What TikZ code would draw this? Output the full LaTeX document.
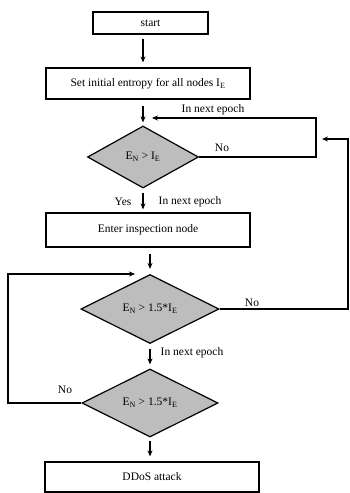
\documentclass[tikz,border=0pt]{standalone}
\usepackage{fontspec}
\setmainfont{Liberation Serif}
\usepackage{tikz}
\usetikzlibrary{arrows.meta}
\usetikzlibrary{shapes.geometric}
\newcommand{\entropy}[1]{#1\textsubscript{E}}
\newcommand{\current}{E\textsubscript{N}}
\tikzstyle{stepbox}=[draw, line width=1.2pt, inner sep=0, font=\fontsize{11.5}{13}\selectfont]
\tikzstyle{test}=[stepbox, diamond, fill=black!26, aspect=1.8]
\tikzstyle{flow}=[line width=1.2pt, -{Stealth[length=6pt,width=5pt]}]
\tikzstyle{loop}=[line width=1.2pt, -{Stealth[length=6pt,width=5pt]}, rounded corners=0]
\tikzstyle{note}=[inner sep=0, font=\fontsize{11.5}{13}\selectfont]
\tikzstyle{chart}=[x=1pt, y=-1pt,
                   % keep the page at the size of the reference
                   execute at begin picture={\useasboundingbox (0,0) rectangle (350,493);}]

\begin{document}
\begin{tikzpicture}[chart]
        \node[stepbox, minimum width=115pt, minimum height=22pt] (start) at (150.5, 23) {start};
        \node[stepbox, minimum width=204pt, minimum height=31pt] (init) at (148, 83.5) {Set initial entropy for all nodes \entropy{I}};
        \node[test, minimum width=111pt, minimum height=62pt] (check) at (143, 157) {\current{} > \entropy{I}};
        \node[stepbox, minimum width=204pt, minimum height=34pt] (inspect) at (148, 230) {Enter inspection node};
        \node[test, minimum width=138pt, minimum height=69pt] (checkA) at (150, 309) {\current{} > 1.5*\entropy{I}};
        \node[test, minimum width=136pt, minimum height=68pt] (checkB) at (150, 403) {\current{} > 1.5*\entropy{I}};
        \node[stepbox, minimum width=214pt, minimum height=30pt] (ddos) at (152, 477) {DDoS attack};
        \coordinate (backA) at (152, 118);
        \coordinate (backB) at (322, 139);
        \coordinate (backC) at (135, 274);
        % main line
        \draw[flow, shorten <=4pt, shorten >=5pt] (start.south -| check) -- (init.north -| check);
        \draw[flow, shorten <=6pt, shorten >=3pt] (init.south -| check) -- (check.north);
        \draw[flow, shorten <=4pt, shorten >=3pt] (check.south) -- (check.south |- inspect.north);
        \draw[flow, shorten <=6pt, shorten >=5pt] (inspect.south -| checkA) -- (checkA.north);
        \draw[flow, shorten <=5pt, shorten >=4pt] (checkA.south) -- (checkB.north);
        \draw[flow, shorten <=3pt, shorten >=5pt] (checkB.south) -- (checkB.south |- ddos.north);
        % loops back
        \draw[loop] (check.east) -- (316, 157) |- (backA);
        \draw[loop] (checkA.east) -- (348, 309) |- (backB);
        \draw[loop] (checkB.west) -- (8, 403) |- (backC);
        \node[note] (epochA) at (213, 110) {In next epoch};
        \node[note] (noA) at (222, 148) {No};
        \node[note] (yes) at (123, 202) {Yes};
        \node[note] (epochB) at (190, 202) {In next epoch};
        \node[note] (noB) at (252, 303) {No};
        \node[note] (epochC) at (192, 353) {In next epoch};
        \node[note] (noC) at (65, 390) {No};
    \end{tikzpicture}
\end{document}
